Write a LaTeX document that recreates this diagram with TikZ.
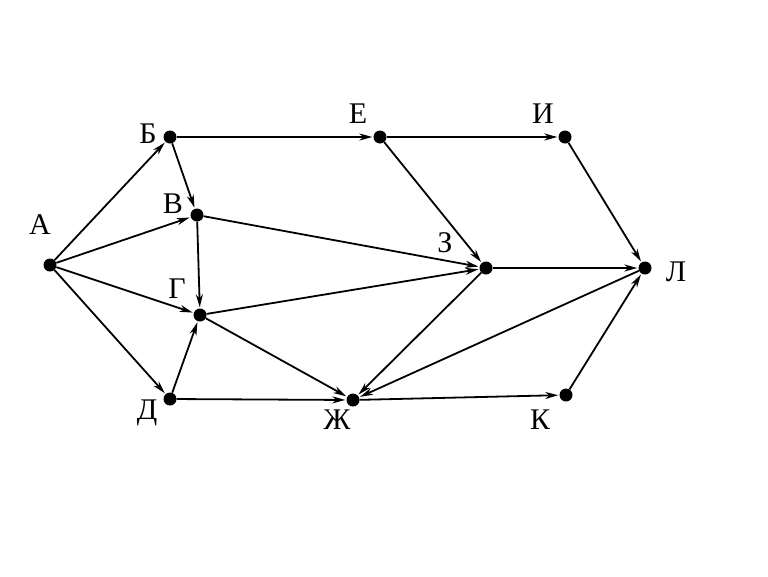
\documentclass[tikz,border=0pt]{standalone}
\usepackage{fontspec}
\setmainfont{Liberation Serif}
\usetikzlibrary{arrows.meta}
\begin{document}
\begin{tikzpicture}[x=1pt,y=-1pt,
  vtx/.style={circle,fill=black,inner sep=0pt,minimum size=13pt},
  lbl/.style={font=\fontsize{30}{30}\selectfont,inner sep=0pt},
  edge/.style={line width=1.8pt,-{Stealth[length=13pt,width=7pt,inset=4pt]},shorten >=1pt}]
\useasboundingbox (0,0) rectangle (768,576);
\node[vtx] (A) at (50,265) {};
\node[vtx] (B) at (170,137) {};
\node[vtx] (V) at (197,215) {};
\node[vtx] (G) at (200,315) {};
\node[vtx] (D) at (170,399) {};
\node[vtx] (E) at (380,137) {};
\node[vtx] (I) at (565,137) {};
\node[vtx] (Z) at (486,268) {};
\node[vtx] (L) at (645,268) {};
\node[vtx] (Zh) at (353,400) {};
\node[vtx] (K) at (566,395) {};
\node[lbl] (tA) at (40,225) {А};
\node[lbl] (tB) at (148,134) {Б};
\node[lbl] (tV) at (173,204) {В};
\node[lbl] (tG) at (177,289) {Г};
\node[lbl] (tD) at (147,413) {Д};
\node[lbl] (tE) at (358,114) {Е};
\node[lbl] (tI) at (543,114) {И};
\node[lbl] (tZ) at (445,243) {З};
\node[lbl] (tL) at (676,272) {Л};
\node[lbl] (tZh) at (337,420) {Ж};
\node[lbl] (tK) at (540,420) {К};
\draw[edge] (A) -- (B);
\draw[edge] (A) -- (V);
\draw[edge] (A) -- (G);
\draw[edge] (A) -- (D);
\draw[edge] (B) -- (E);
\draw[edge] (B) -- (V);
\draw[edge] (V) -- (G);
\draw[edge] (V) -- (Z);
\draw[edge] (G) -- (Z);
\draw[edge] (G) -- (Zh);
\draw[edge] (D) -- (G);
\draw[edge] (D) -- (Zh);
\draw[edge] (E) -- (I);
\draw[edge] (E) -- (Z);
\draw[edge] (I) -- (L);
\draw[edge] (Z) -- (L);
\draw[edge] (Z) -- (Zh);
\draw[edge] (L) -- (Zh);
\draw[edge] (Zh) -- (K);
\draw[edge] (K) -- (L);
\end{tikzpicture}
\end{document}
